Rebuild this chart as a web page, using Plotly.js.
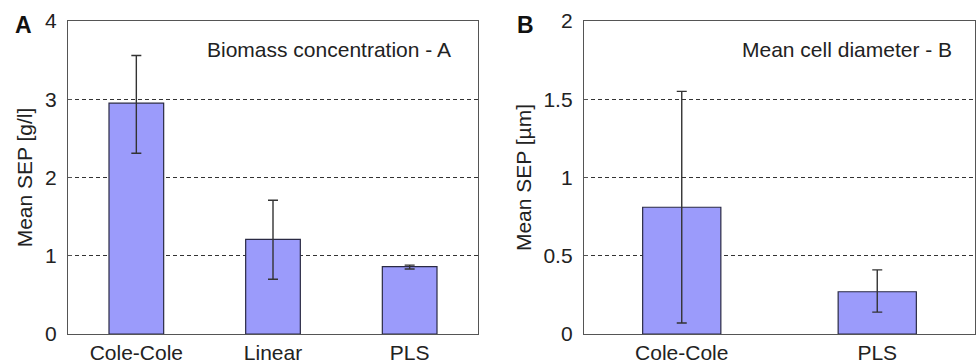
<!DOCTYPE html>
<html>
<head>
<meta charset="utf-8">
<script src="https://cdn.plot.ly/plotly-3.0.1.min.js"></script>
<style>html,body{margin:0;padding:0;background:#fff;}#chart{width:976px;height:360px;}</style>
</head>
<body>
<div id="chart"></div>
<script>
// Panel A data: biomass concentration
var categoriesA = ["Cole-Cole", "Linear", "PLS"];
var meanA = [2.95, 1.21, 0.86];
var errPlusA = [0.61, 0.50, 0.02];
var errMinusA = [0.64, 0.51, 0.03];
var ticksA = [0, 1, 2, 3, 4];
var tickTextA = ["0", "1", "2", "3", "4"];

// Panel B data: mean cell diameter
var categoriesB = ["Cole-Cole", "PLS"];
var meanB = [0.81, 0.27];
var errPlusB = [0.74, 0.14];
var errMinusB = [0.74, 0.13];
var ticksB = [0, 0.5, 1, 1.5, 2];
var tickTextB = ["0", "0.5", "1", "1.5", "2"];

var FONT = "Liberation Sans, Arial, sans-serif";
var barColor = "#9b9bfb";
var barLine = "#2a2a44";

function barTrace(cats, vals, ep, em, xa, ya) {
  return {
    type: "bar", x: cats, y: vals, xaxis: xa, yaxis: ya, width: 0.4,
    marker: {color: barColor, line: {color: barLine, width: 1.2}},
    error_y: {type: "data", symmetric: false, array: ep, arrayminus: em,
              color: "#333", thickness: 1.4, width: 5},
    hoverinfo: "x+y", showlegend: false
  };
}

var data = [
  barTrace(categoriesA, meanA, errPlusA, errMinusA, "x", "y"),
  barTrace(categoriesB, meanB, errPlusB, errMinusB, "x2", "y2")
];

function xAxis(domain, anchor, n) {
  return {
    domain: domain, anchor: anchor, type: "category", range: [-0.5, n - 0.5],
    showline: true, mirror: true, linecolor: "#555", linewidth: 1.2,
    showgrid: false, zeroline: false, ticks: "", ticklabelstandoff: 0,
    tickfont: {family: FONT, size: 21, color: "#222"}, fixedrange: true
  };
}
function yAxis(anchor, range, tv, tt, title) {
  return {
    domain: [0, 1], anchor: anchor, range: range, tickvals: tv, ticktext: tt,
    showline: true, mirror: true, linecolor: "#555", linewidth: 1.2,
    showgrid: true, gridcolor: "#333", griddash: "4px,3px", gridwidth: 1,
    zeroline: false, ticks: "inside", ticklen: 4, tickcolor: "#555",
    ticklabelstandoff: 6,
    tickfont: {family: FONT, size: 21, color: "#222"},
    title: {text: title, font: {family: FONT, size: 21, color: "#222"}, standoff: 6},
    fixedrange: true
  };
}

var T = 21, B = 26, PH = 360 - T - B;
var layout = {
  width: 976, height: 360,
  margin: {l: 0, r: 0, t: T, b: B, pad: 0},
  paper_bgcolor: "#fff", plot_bgcolor: "#fff",
  font: {family: FONT, size: 21, color: "#222"},
  bargap: 0.6,
  xaxis: xAxis([68/976, 478/976], "y", categoriesA.length),
  yaxis: yAxis("x", [0, 4], ticksA, tickTextA, "Mean SEP [g/l]"),
  xaxis2: xAxis([584/976, 975/976], "y2", categoriesB.length),
  yaxis2: yAxis("x2", [0, 2], ticksB, tickTextB, "Mean SEP [µm]"),
  annotations: [
    {text: "Biomass concentration - A", xref: "paper", yref: "paper",
     x: 453/976, y: (360 - B - 49)/PH, xanchor: "right", yanchor: "middle",
     showarrow: false, font: {family: FONT, size: 21, color: "#222"}},
    {text: "Mean cell diameter - B", xref: "paper", yref: "paper",
     x: 954/976, y: (360 - B - 49)/PH, xanchor: "right", yanchor: "middle",
     showarrow: false, font: {family: FONT, size: 21, color: "#222"}},
    {text: "<b>A</b>", xref: "paper", yref: "paper",
     x: 23/976, y: (360 - B - 25)/PH, xanchor: "center", yanchor: "middle",
     showarrow: false, font: {family: FONT, size: 23, color: "#111"}},
    {text: "<b>B</b>", xref: "paper", yref: "paper",
     x: 525/976, y: (360 - B - 25)/PH, xanchor: "center", yanchor: "middle",
     showarrow: false, font: {family: FONT, size: 23, color: "#111"}}
  ]
};

Plotly.newPlot("chart", data, layout, {displayModeBar: false, staticPlot: true});
</script>
</body>
</html>
